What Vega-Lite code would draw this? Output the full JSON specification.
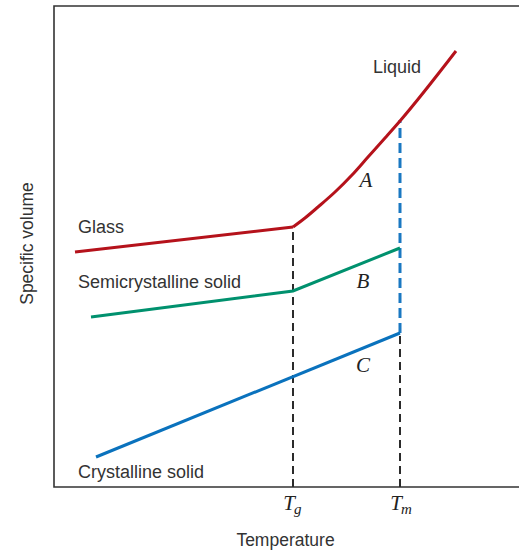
{
  "$schema": "https://vega.github.io/schema/vega-lite/v6.json",
  "width": 470,
  "height": 481,
  "autosize": {"type": "none"},
  "padding": {"left": 54, "top": 6, "right": 0, "bottom": 63},
  "background": "white",
  "config": {
    "view": {"stroke": "#333333", "strokeWidth": 1.6},
    "font": "Liberation Sans"
  },
  "datasets": {
    "solids": [
      {"series": "Glass", "o": 1, "x": 21, "y": 235},
      {"series": "Glass", "o": 2, "x": 239, "y": 260},
      {"series": "Semicrystalline", "o": 1, "x": 37, "y": 170},
      {"series": "Semicrystalline", "o": 2, "x": 239, "y": 196},
      {"series": "Semicrystalline", "o": 3, "x": 346, "y": 239},
      {"series": "Crystalline", "o": 1, "x": 42, "y": 30},
      {"series": "Crystalline", "o": 2, "x": 346, "y": 154}
    ],
    "liquid": [
      {"series": "Liquid", "o": 1, "x": 239, "y": 260},
      {"series": "Liquid", "o": 2, "x": 251, "y": 269},
      {"series": "Liquid", "o": 3, "x": 264, "y": 280},
      {"series": "Liquid", "o": 4, "x": 281, "y": 295},
      {"series": "Liquid", "o": 5, "x": 298, "y": 312},
      {"series": "Liquid", "o": 6, "x": 314, "y": 330},
      {"series": "Liquid", "o": 7, "x": 331, "y": 349},
      {"series": "Liquid", "o": 8, "x": 346, "y": 366},
      {"series": "Liquid", "o": 9, "x": 402, "y": 436}
    ],
    "blackGuides": [
      {"guide": "Tg", "x": 239, "y": 0, "y2": 260},
      {"guide": "Tm solid", "x": 346, "y": 0, "y2": 154}
    ],
    "blueGuides": [
      {"guide": "Tm liquid", "x": 346, "y": 154, "y2": 367}
    ],
    "labels": [
      {"text": "Liquid", "x": 319, "y": 414},
      {"text": "Glass", "x": 24, "y": 254},
      {"text": "Semicrystalline solid", "x": 24, "y": 199},
      {"text": "Crystalline solid", "x": 24, "y": 9}
    ],
    "letters": [
      {"text": "A", "x": 312, "y": 300},
      {"text": "B", "x": 309, "y": 199},
      {"text": "C", "x": 309, "y": 115},
      {"text": "T", "x": 235, "y": -23},
      {"text": "T", "x": 342, "y": -23}
    ],
    "subs": [
      {"text": "g", "x": 240, "y": -27},
      {"text": "m", "x": 347, "y": -27}
    ]
  },
  "layer": [
    {
      "data": {"name": "blackGuides"},
      "mark": {"type": "rule", "strokeDash": [8, 5], "strokeWidth": 2, "color": "#2b2b2b"},
      "encoding": {
        "x": {"field": "x", "type": "quantitative", "scale": {"domain": [0, 470], "nice": false, "zero": false},
              "axis": {"title": "Temperature", "labels": false, "ticks": false, "domain": false, "grid": false,
                       "titleFont": "Liberation Sans", "titleFontWeight": "normal", "titleFontSize": 17.5, "titleColor": "#333333",
                       "titleX": 231, "titleY": 58, "titleBaseline": "alphabetic", "titleAlign": "center", "titleAnchor": null}},
        "y": {"field": "y", "type": "quantitative", "scale": {"domain": [0, 481], "nice": false, "zero": false},
              "axis": {"title": "Specific volume", "labels": false, "ticks": false, "domain": false, "grid": false,
                       "titleFont": "Liberation Sans", "titleFontWeight": "normal", "titleFontSize": 17.5, "titleColor": "#333333",
                       "titleX": -22, "titleY": 237, "titleAngle": 270, "titleBaseline": "alphabetic", "titleAlign": "center", "titleAnchor": null}},
        "y2": {"field": "y2"}
      }
    },
    {
      "data": {"name": "blueGuides"},
      "mark": {"type": "rule", "strokeDash": [10, 5], "strokeWidth": 3, "color": "#1a78c2"},
      "encoding": {
        "x": {"field": "x", "type": "quantitative"},
        "y": {"field": "y", "type": "quantitative"},
        "y2": {"field": "y2"}
      }
    },
    {
      "data": {"name": "solids"},
      "mark": {"type": "line", "strokeWidth": 3},
      "encoding": {
        "x": {"field": "x", "type": "quantitative"},
        "y": {"field": "y", "type": "quantitative"},
        "order": {"field": "o", "type": "quantitative"},
        "color": {"field": "series", "type": "nominal", "legend": null,
                  "scale": {"domain": ["Glass", "Liquid", "Semicrystalline", "Crystalline"], "range": ["#b5121b", "#b5121b", "#00916e", "#0a72bd"]}}
      }
    },
    {
      "data": {"name": "liquid"},
      "mark": {"type": "line", "strokeWidth": 3, "interpolate": "monotone"},
      "encoding": {
        "x": {"field": "x", "type": "quantitative"},
        "y": {"field": "y", "type": "quantitative"},
        "order": {"field": "o", "type": "quantitative"},
        "color": {"field": "series", "type": "nominal", "legend": null}
      }
    },
    {
      "data": {"name": "labels"},
      "mark": {"type": "text", "font": "Liberation Sans", "fontSize": 18, "color": "#333333", "baseline": "alphabetic", "align": "left"},
      "encoding": {
        "x": {"field": "x", "type": "quantitative"},
        "y": {"field": "y", "type": "quantitative"},
        "text": {"field": "text"}
      }
    },
    {
      "data": {"name": "letters"},
      "mark": {"type": "text", "font": "Liberation Serif", "fontStyle": "italic", "fontSize": 21, "color": "#222222", "baseline": "alphabetic", "align": "center"},
      "encoding": {
        "x": {"field": "x", "type": "quantitative"},
        "y": {"field": "y", "type": "quantitative"},
        "text": {"field": "text"}
      }
    },
    {
      "data": {"name": "subs"},
      "mark": {"type": "text", "font": "Liberation Serif", "fontStyle": "italic", "fontSize": 15, "color": "#222222", "baseline": "alphabetic", "align": "left"},
      "encoding": {
        "x": {"field": "x", "type": "quantitative"},
        "y": {"field": "y", "type": "quantitative"},
        "text": {"field": "text"}
      }
    }
  ]
}
